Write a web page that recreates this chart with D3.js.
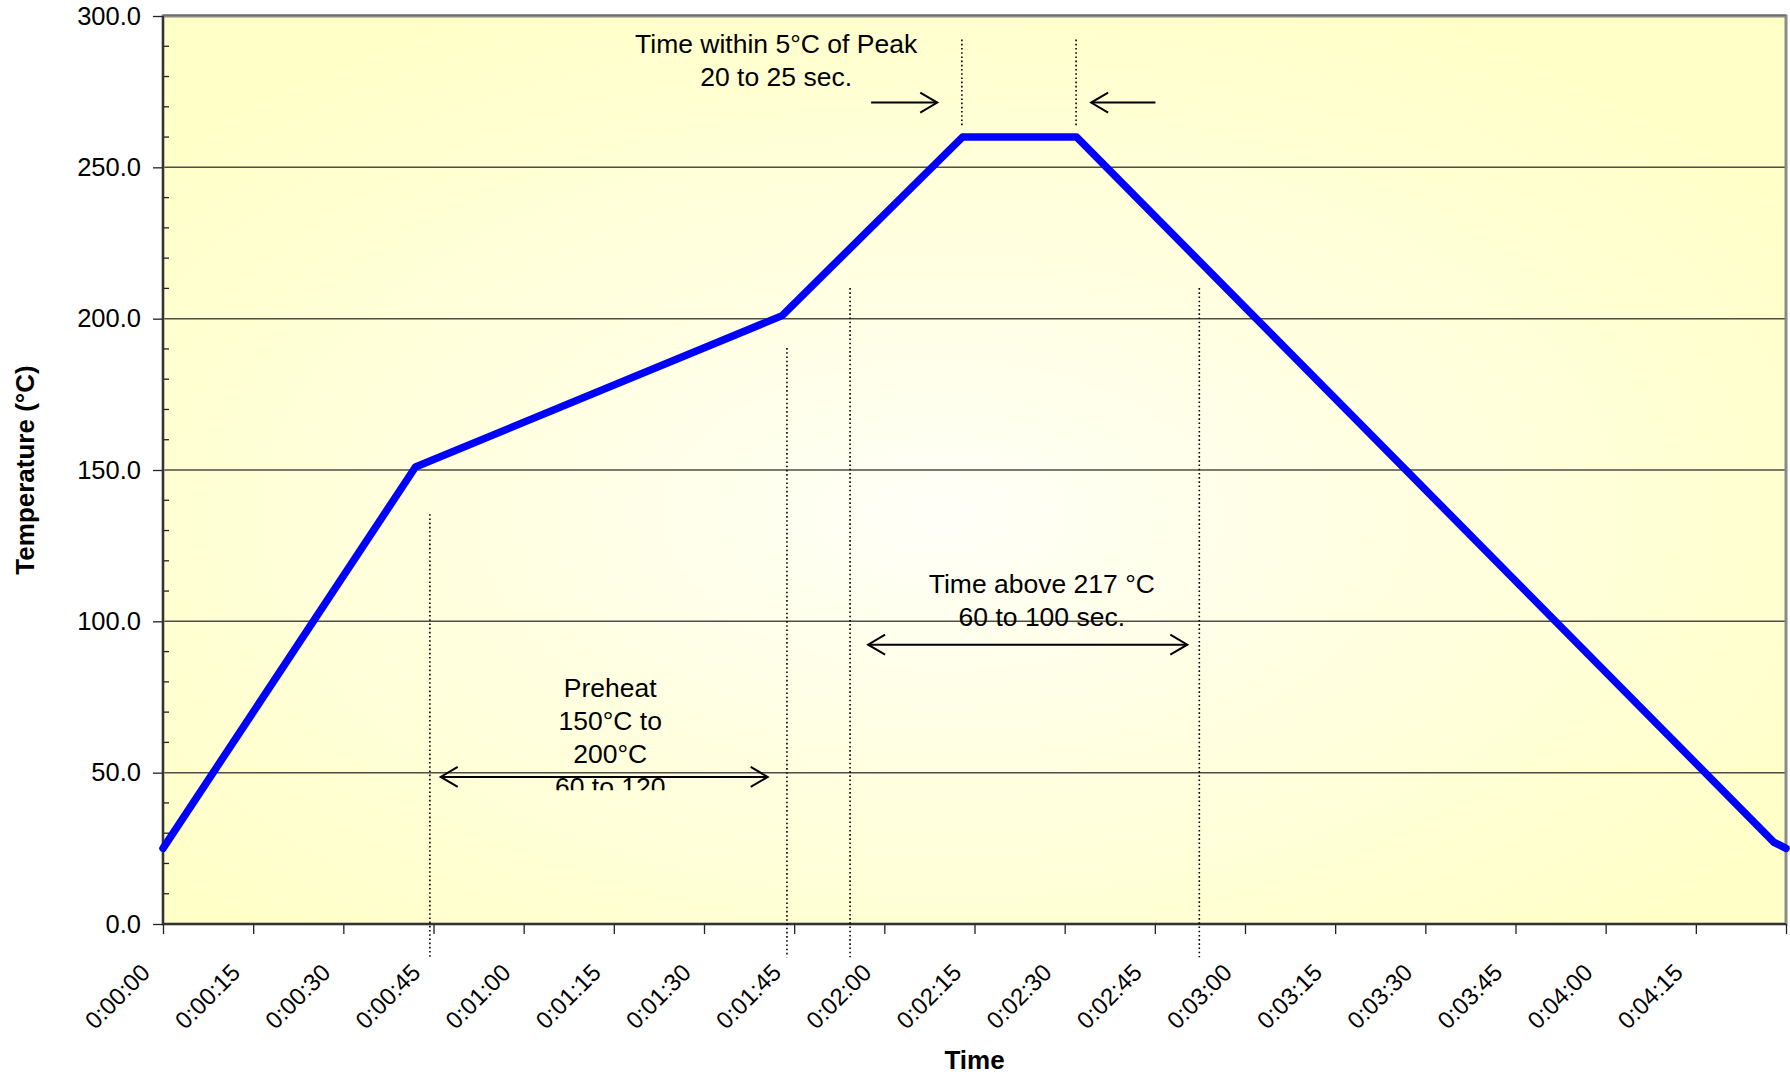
<!DOCTYPE html>
<html><head><meta charset="utf-8">
<script src="https://cdn.jsdelivr.net/npm/d3@7"></script>
<style>
body{margin:0;background:#fff}
text{font-family:"Liberation Sans",Arial,sans-serif;fill:#000}
</style>
</head><body>
<svg id="chart" width="1790" height="1074"></svg>
<script>
// ---- data ----
const timeSec = [0, 42, 103, 133, 152, 268, 270];
const tempC   = [25, 151, 201, 260, 260, 27, 25];

const xTickSec    = [0, 15, 30, 45, 60, 75, 90, 105, 120, 135, 150, 165, 180, 195, 210, 225, 240, 255, 270];
const xTickLabels = ["0:00:00","0:00:15","0:00:30","0:00:45","0:01:00","0:01:15","0:01:30","0:01:45","0:02:00",
                     "0:02:15","0:02:30","0:02:45","0:03:00","0:03:15","0:03:30","0:03:45","0:04:00","0:04:15",""];
const yTicks      = [0, 50, 100, 150, 200, 250, 300];
const yTickLabels = ["0.0","50.0","100.0","150.0","200.0","250.0","300.0"];
const yMinor      = [10,20,30,40,60,70,80,90,110,120,130,140,160,170,180,190,210,220,230,240,260,270,280,290];

// annotation guides (time in s, temperatures in °C)
const guideTime   = [44.4, 103.8, 114.3, 172.4, 132.9, 151.9];
const guideTop    = [135.4, 190.3, 210.1, 210.1, 292.2, 292.2];
const guideBottom = [-11.5, -11, -11, -11, 263.5, 263.5];

// arrows: from / to time, at temperature; double-headed flag
const arrowFrom   = [46.2, 117.3, 117.8, 165.1];
const arrowTo     = [100.6, 170.4, 128.8, 154.4];
const arrowTemp   = [48.6, 92.3, 271.4, 271.4];
const arrowDouble = [true, true, false, false];

// notes
const noteLines = [
  ["Time within 5°C of Peak", "20 to 25 sec."],
  ["Time above 217 °C", "60 to 100 sec."],
  ["Preheat", "150°C to", "200°C", "60 to 120"]
];
const noteTime  = [102, 146.2, 74.4];
const noteTemp  = [287.7, 109.3, 75];
const noteClipTemp = [null, null, 44.2];

// ---- layout ----
const W = 1790, H = 1074;
const m = {left:163, top:16, right:4, bottom:150};
const pw = W - m.left - m.right, ph = H - m.top - m.bottom;

const svg = d3.select("#chart");
const x = d3.scaleLinear().domain([0, 270]).range([m.left, m.left + pw]);
const y = d3.scaleLinear().domain([0, 300]).range([m.top + ph, m.top]);

const defs = svg.append("defs");
const grad = defs.append("radialGradient").attr("id","bg")
  .attr("cx","0.48").attr("cy","0.55").attr("r","0.62");
grad.append("stop").attr("offset","0").attr("stop-color","#fffff8");
grad.append("stop").attr("offset","0.35").attr("stop-color","#ffffe6");
grad.append("stop").attr("offset","1").attr("stop-color","#ffffc8");

svg.append("rect").attr("x",m.left).attr("y",m.top).attr("width",pw).attr("height",ph)
  .attr("fill","url(#bg)");

// gridlines
svg.append("g").selectAll("line").data(yTicks.filter(d => d > 0 && d < 300)).join("line")
  .attr("x1", m.left).attr("x2", m.left + pw)
  .attr("y1", d => y(d)).attr("y2", d => y(d))
  .attr("stroke","#4e4e44").attr("stroke-width",1.5);

// border
svg.append("rect").attr("x",m.left).attr("y",m.top).attr("width",pw).attr("height",ph)
  .attr("fill","none").attr("stroke","#8a8a8a").attr("stroke-width",3);
svg.append("line").attr("x1",m.left).attr("x2",m.left+pw).attr("y1",m.top-1).attr("y2",m.top-1)
  .attr("stroke","#555").attr("stroke-width",1);

// y minor ticks (inside)
svg.append("g").selectAll("line").data(yMinor).join("line")
  .attr("x1", m.left).attr("x2", m.left + 6)
  .attr("y1", d => y(d)).attr("y2", d => y(d))
  .attr("stroke","#222").attr("stroke-width",1.3);

// axes
const yAxis = d3.axisLeft(y).tickValues(yTicks).tickSize(10).tickPadding(12)
  .tickFormat((d,i) => yTickLabels[i]);
const gy = svg.append("g").attr("transform",`translate(${m.left},0)`).call(yAxis);
gy.select(".domain").remove();
gy.selectAll(".tick line").attr("stroke","#222").attr("stroke-width",1.3);
gy.selectAll("text").attr("font-size",25.5).attr("font-family",'"Liberation Sans",Arial,sans-serif');

const xAxis = d3.axisBottom(x).tickValues(xTickSec).tickSize(10)
  .tickFormat((d,i) => xTickLabels[i]);
const gx = svg.append("g").attr("transform",`translate(0,${m.top+ph})`).call(xAxis);
gx.select(".domain").remove();
gx.selectAll(".tick line").attr("stroke","#222").attr("stroke-width",1.3);
gx.selectAll("text").attr("font-size",24).attr("font-family",'"Liberation Sans",Arial,sans-serif')
  .attr("text-anchor","end").attr("dy",null).attr("x",0).attr("y",0)
  .attr("transform","translate(-12,50) rotate(-45)");

// axis lines
svg.append("line").attr("x1",m.left).attr("x2",m.left).attr("y1",m.top).attr("y2",m.top+ph)
  .attr("stroke","#333").attr("stroke-width",2);
svg.append("line").attr("x1",m.left).attr("x2",m.left+pw).attr("y1",m.top+ph).attr("y2",m.top+ph)
  .attr("stroke","#333").attr("stroke-width",2);

// guides (dotted)
svg.append("g").selectAll("line").data(guideTime).join("line")
  .attr("x1", d => x(d)).attr("x2", d => x(d))
  .attr("y1", (d,i) => y(guideTop[i])).attr("y2", (d,i) => y(guideBottom[i]))
  .attr("stroke","#000").attr("stroke-width",1.6).attr("stroke-dasharray","1.6,2.6");

// temperature line
const pts = timeSec.map((t,i) => [t, tempC[i]]);
svg.append("path").datum(pts)
  .attr("d", d3.line().x(d => x(d[0])).y(d => y(d[1])))
  .attr("fill","none").attr("stroke","#0000ff").attr("stroke-width",7.5)
  .attr("stroke-linejoin","round").attr("stroke-linecap","round");

// arrows
const ag = svg.append("g").attr("stroke","#000").attr("stroke-width",2).attr("fill","none");
function head(x0, y0, dir) {
  return `M${x0 - dir*17},${y0-10}L${x0},${y0}L${x0 - dir*17},${y0+10}`;
}
arrowFrom.forEach((f,i) => {
  const x1 = x(f), x2 = x(arrowTo[i]), yy = y(arrowTemp[i]);
  const dir = x2 > x1 ? 1 : -1;
  ag.append("line").attr("x1",x1).attr("x2",x2).attr("y1",yy).attr("y2",yy);
  ag.append("path").attr("d", head(x2, yy, dir));
  if (arrowDouble[i]) ag.append("path").attr("d", head(x1, yy, -dir));
});

// notes
noteLines.forEach((lines,i) => {
  const g = svg.append("g");
  if (noteClipTemp[i] !== null) {
    const id = "clip" + i;
    defs.append("clipPath").attr("id", id).append("rect")
      .attr("x", m.left).attr("y", m.top).attr("width", pw).attr("height", y(noteClipTemp[i]) - m.top);
    g.attr("clip-path", `url(#${id})`);
  }
  lines.forEach((s,j) => {
    g.append("text").attr("x", x(noteTime[i])).attr("y", y(noteTemp[i]) + j*33)
      .attr("text-anchor","middle").attr("font-size",26.5).text(s);
  });
});

// axis titles
svg.append("text").attr("x", m.left + pw/2).attr("y", 1069).attr("text-anchor","middle")
  .attr("font-size",26).attr("font-weight","bold").text("Time");
svg.append("text").attr("transform",`translate(34,${m.top+ph/2}) rotate(-90)`)
  .attr("text-anchor","middle").attr("font-size",26).attr("font-weight","bold").text("Temperature (°C)");
</script>
</body></html>
